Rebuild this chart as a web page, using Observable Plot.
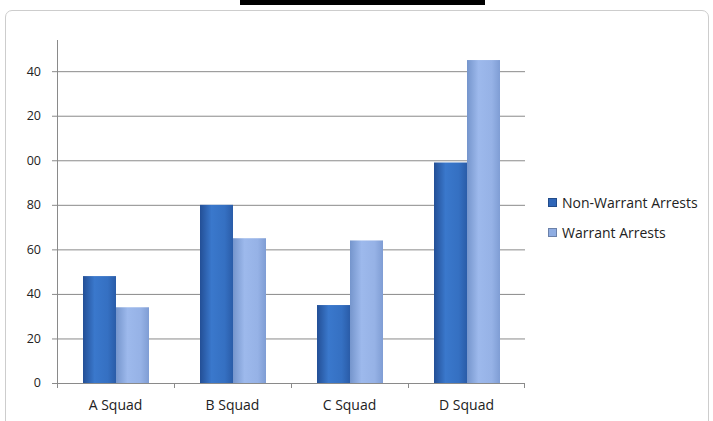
<!DOCTYPE html>
<html><head><meta charset="utf-8">
<script src="https://cdn.jsdelivr.net/npm/d3@7"></script>
<script src="https://cdn.jsdelivr.net/npm/@observablehq/plot@0.6"></script>
<style>
body{margin:0;background:#fff;}
#wrap{position:relative;width:713px;height:421px;overflow:hidden;font-family:"Open Sans",Lato,sans-serif;background:#fff;}
#frame{position:absolute;left:5px;top:10px;width:702px;height:440px;border:1.5px solid #cdcdcd;border-radius:7px;}
#titlebar{position:absolute;left:240px;top:0;width:245px;height:5px;background:#000;}
#chart{position:absolute;left:0;top:0;}
#legend{position:absolute;left:548px;top:191px;font-size:14px;color:#222;}
.item{display:flex;align-items:center;height:22px;margin-bottom:8px;white-space:nowrap;}
.sw{width:9px;height:9px;margin-right:5px;box-sizing:border-box;border:1px solid rgba(0,0,0,0.25);}
</style>
</head><body>
<div id="wrap">
  <div id="frame"></div>
  <div id="titlebar"></div>
  <div id="chart"></div>
  <div id="legend"></div>
</div>
<script>
const squads = ["A Squad", "B Squad", "C Squad", "D Squad"];
const seriesNames = ["Non-Warrant Arrests", "Warrant Arrests"];
const nonWarrant = [48, 80, 35, 99];
const warrant = [34, 65, 64, 145];
const yTicks = [0, 20, 40, 60, 80, 100, 120, 140];
const yTickLabels = ["0", "20", "40", "60", "80", "00", "20", "40"];
const seriesColors = ["#2f66b8", "#8fade2"];

const data = [];
squads.forEach((s, i) => {
  data.push({squad: s, series: seriesNames[0], value: nonWarrant[i]});
  data.push({squad: s, series: seriesNames[1], value: warrant[i]});
});

const fig = Plot.plot({
  width: 713,
  height: 421,
  marginLeft: 57,
  marginRight: 188,
  marginTop: 40,
  marginBottom: 38,
  style: {fontFamily: "'Open Sans', Lato, sans-serif", fontSize: "12.5px", color: "#222", background: "transparent"},
  fx: {domain: squads, padding: 0, label: null, axis: null},
  x: {domain: seriesNames, paddingInner: 0, paddingOuter: 0.75, axis: null},
  y: {domain: [0, 154], label: null, axis: null},
  marks: [
    Plot.ruleY(yTicks.filter(d => d > 0), {stroke: "#8a8a8a", strokeWidth: 1}),
    Plot.barY(data.filter(d => d.series === seriesNames[0]), {fx: "squad", x: "series", y: "value", fill: "url(#gDark)"}),
    Plot.barY(data.filter(d => d.series === seriesNames[1]), {fx: "squad", x: "series", y: "value", fill: "url(#gLight)"}),
    Plot.ruleY([0], {stroke: "#8a8a8a", strokeWidth: 1})
  ]
});

const svg = d3.select(fig);
const defs = svg.insert("defs", ":first-child");
function grad(id, stops) {
  const g = defs.append("linearGradient").attr("id", id).attr("x1", "0").attr("x2", "1").attr("y1", "0").attr("y2", "0");
  stops.forEach(([o, c]) => g.append("stop").attr("offset", o).attr("stop-color", c));
}
grad("gDark", [["0", "#234f96"], ["0.35", "#3a78cc"], ["0.75", "#3570c2"], ["1", "#2a5ca8"]]);
grad("gLight", [["0", "#7595cc"], ["0.35", "#9db9ec"], ["0.75", "#96b2e6"], ["1", "#7f9dd4"]]);

const fx = fig.scale("fx");
const y = fig.scale("y");
const x0 = fx.apply(squads[0]);
const bw = fx.bandwidth;
const xEnd = fx.apply(squads[squads.length - 1]) + bw;
const ax = svg.append("g").attr("stroke", "#8a8a8a").attr("fill", "none");
ax.append("line").attr("x1", x0 + 0.5).attr("x2", x0 + 0.5).attr("y1", y.apply(154)).attr("y2", y.apply(0));
yTicks.forEach(t => ax.append("line").attr("x1", x0 - 5).attr("x2", x0).attr("y1", y.apply(t) + 0.5).attr("y2", y.apply(t) + 0.5));
squads.forEach(s => {
  const xx = fx.apply(s);
  ax.append("line").attr("x1", xx + 0.5).attr("x2", xx + 0.5).attr("y1", y.apply(0)).attr("y2", y.apply(0) + 5);
});
ax.append("line").attr("x1", xEnd - 0.5).attr("x2", xEnd - 0.5).attr("y1", y.apply(0)).attr("y2", y.apply(0) + 5);
const tl = svg.append("g").attr("fill", "#222");
yTicks.forEach((t, i) => tl.append("text").attr("x", x0 - 16).attr("y", y.apply(t)).attr("dy", "0.35em").attr("text-anchor", "end").attr("font-size", "12.5px").text(yTickLabels[i]));
squads.forEach(s => tl.append("text").attr("x", fx.apply(s) + bw / 2).attr("y", y.apply(0) + 22).attr("dy", "0.35em").attr("text-anchor", "middle").attr("font-size", "14px").text(s));

document.getElementById("chart").appendChild(fig);

const legend = d3.select("#legend");
seriesNames.forEach((n, i) => {
  const it = legend.append("div").attr("class", "item");
  it.append("div").attr("class", "sw").style("background", seriesColors[i]);
  it.append("span").text(n);
});
</script>
</body></html>
